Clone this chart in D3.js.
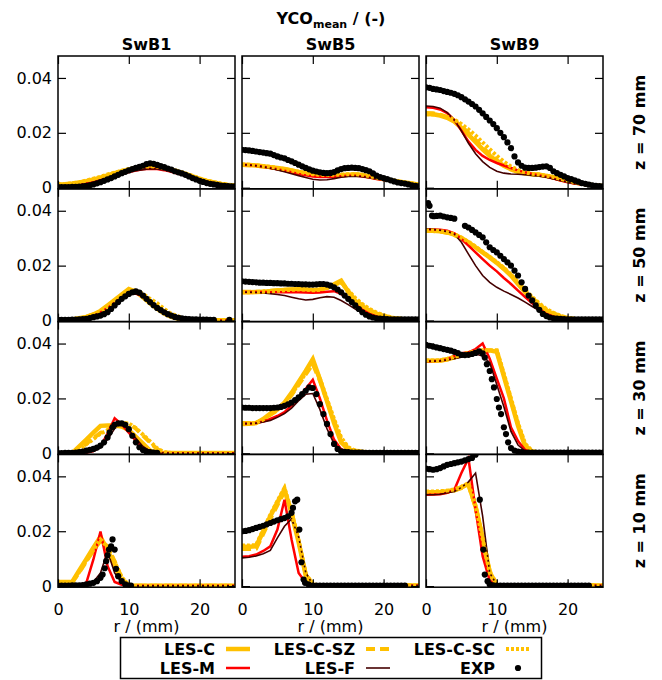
<!DOCTYPE html>
<html>
<head>
<meta charset="utf-8">
<script src="https://cdn.jsdelivr.net/npm/d3@7"></script>
<style>
  body { margin: 0; background: #fff; }
  svg { display: block; }
  text { font-family: "DejaVu Sans", sans-serif; fill: #000; }
</style>
</head>
<body>
<svg id="chart" width="662" height="680"></svg>
<script>
// Flames (columns) and measurement heights (rows)
const flames = ["SwB1", "SwB5", "SwB9"];
const heights = ["z = 70 mm", "z = 50 mm", "z = 30 mm", "z = 10 mm"];
const xTicks = [0, 10, 20];
const xTickLabels = ["0", "10", "20"];
const yTicks = [0, 0.02, 0.04];
const yTickLabels = ["0", "0.02", "0.04"];

// Radial grid of the simulation profiles (mm)
const rGrid = [0,1,2,3,4,5,6,7,8,9,10,11,12,13,14,15,16,17,18,19,20,21,22,23,24,25];

// Simulated mean CO mass fraction, indexed [height][flame], one value per rGrid point
const lesC = [
  [
    [.0012,.0013,.0015,.0019,.0024,.003,.0037,.0045,.0053,.006,.0066,.0071,.0075,.0077,.0076,.0072,.0066,.0058,.005,.0041,.0032,.0025,.0019,.0014,.001,.0008],
    [.0084,.0083,.0081,.0078,.0075,.0072,.0068,.0063,.0057,.0052,.0047,.0045,.0044,.0044,.0045,.0047,.0048,.0046,.0041,.0036,.0032,.0027,.0023,.0019,.0015,.0011],
    [.0269,.0268,.0263,.0255,.0241,.0218,.0193,.0167,.014,.0116,.0096,.008,.0067,.0058,.0052,.0049,.0047,.0043,.0038,.0031,.0025,.0019,.0015,.0011,.0008,.0006]
  ],
  [
    [.0001,.0002,.0004,.0008,.0013,.0022,.0035,.0055,.0075,.0095,.0115,.0105,.0085,.0063,.0043,.0025,.0013,.0006,.0002,.0001,.0001,.0001,.0001,.0001,.0001,.0001],
    [.0103,.0103,.0104,.0105,.0107,.0109,.0111,.0113,.0114,.0113,.0111,.0113,.012,.0132,.0145,.0105,.0072,.0052,.0036,.0025,.0016,.001,.0006,.0004,.0004,.0004],
    [.0327,.0327,.0325,.0321,.0313,.0301,.0285,.0267,.0248,.023,.021,.0188,.0164,.0133,.0103,.0079,.0055,.0036,.0024,.0015,.0008,.0005,.0003,.0003,.0003,.0003]
  ],
  [
    [0,0,.0001,.0025,.005,.0075,.01,.0101,.0101,.0098,.0085,.006,.0035,.001,.0002,.0001,.0001,.0001,.0001,.0001,.0001,.0001,.0001,.0001,.0001,.0001],
    [.0107,.0108,.011,.0125,.0145,.016,.0185,.022,.026,.03,.0343,.027,.019,.011,.004,.0015,.0008,.0005,.0003,.0003,.0003,.0003,.0003,.0003,.0003,.0003],
    [.0337,.0337,.0338,.0343,.035,.0358,.0365,.037,.0374,.0375,.037,.028,.019,.01,.0025,.0006,.0003,.0003,.0003,.0003,.0003,.0003,.0003,.0003,.0003,.0003]
  ],
  [
    [.0015,.0015,.0015,.0057,.0098,.014,.018,.013,.0075,.002,.0002,.0001,.0001,.0001,.0001,.0001,.0001,.0001,.0001,.0001,.0001,.0001,.0001,.0001,.0001,.0001],
    [.0143,.0143,.0145,.02,.0255,.0305,.0352,.0265,.016,.004,.0005,.0002,.0002,.0002,.0002,.0002,.0002,.0002,.0002,.0002,.0002,.0002,.0002,.0002,.0002,.0002],
    [.0342,.0342,.0343,.0346,.035,.036,.0372,.029,.0175,.005,.0004,.0002,.0002,.0002,.0002,.0002,.0002,.0002,.0002,.0002,.0002,.0002,.0002,.0002,.0002,.0002]
  ]
];

const lesCSZ = [
  [
    [.0011,.0012,.0014,.0018,.0023,.0029,.0036,.0044,.0052,.0059,.0065,.007,.0074,.0076,.0075,.0071,.0065,.0057,.0049,.004,.0031,.0024,.0018,.0013,.001,.0008],
    [.0083,.0082,.008,.0077,.0074,.0071,.0067,.0062,.0057,.0052,.0048,.0046,.0045,.0045,.0046,.0047,.0048,.0046,.0042,.0037,.0032,.0027,.0023,.0019,.0015,.0011],
    [.0272,.0271,.0266,.0258,.0245,.0224,.02,.0174,.0147,.0122,.01,.0083,.0069,.0059,.0053,.0049,.0047,.0043,.0038,.0031,.0025,.0019,.0015,.0011,.0008,.0006]
  ],
  [
    [.0001,.0002,.0004,.0008,.0013,.0021,.0033,.0052,.0072,.0092,.0111,.0108,.0092,.0072,.0052,.0032,.0017,.0008,.0003,.0001,.0001,.0001,.0001,.0001,.0001,.0001],
    [.0105,.0105,.0105,.0106,.0108,.011,.0112,.0113,.0114,.0112,.011,.0112,.0119,.013,.0141,.0107,.0076,.0055,.0038,.0026,.0017,.0011,.0007,.0005,.0004,.0004],
    [.0326,.0326,.0324,.032,.0312,.03,.0284,.0266,.0248,.023,.0211,.019,.0166,.0137,.0107,.0082,.0058,.0039,.0026,.0016,.0009,.0005,.0003,.0003,.0003,.0003]
  ],
  [
    [0,0,.0001,.0015,.0035,.0055,.0075,.0085,.0098,.011,.0108,.009,.0065,.004,.0015,.0003,.0001,.0001,.0001,.0001,.0001,.0001,.0001,.0001,.0001,.0001],
    [.011,.011,.0112,.0122,.014,.0157,.018,.0212,.025,.0288,.0325,.0265,.0192,.0118,.005,.0018,.0009,.0005,.0003,.0003,.0003,.0003,.0003,.0003,.0003,.0003],
    [.0336,.0336,.0337,.0342,.0349,.0357,.0364,.037,.0374,.0375,.0372,.0285,.0195,.0105,.003,.0007,.0003,.0003,.0003,.0003,.0003,.0003,.0003,.0003,.0003,.0003]
  ],
  [
    [.0013,.0013,.0013,.005,.009,.013,.0165,.0145,.009,.003,.0003,.0001,.0001,.0001,.0001,.0001,.0001,.0001,.0001,.0001,.0001,.0001,.0001,.0001,.0001,.0001],
    [.0135,.0135,.0137,.019,.0245,.0295,.0345,.027,.0165,.0045,.0006,.0002,.0002,.0002,.0002,.0002,.0002,.0002,.0002,.0002,.0002,.0002,.0002,.0002,.0002,.0002],
    [.0338,.0338,.034,.0343,.0348,.0357,.0368,.0288,.0178,.0055,.0005,.0002,.0002,.0002,.0002,.0002,.0002,.0002,.0002,.0002,.0002,.0002,.0002,.0002,.0002,.0002]
  ]
];

const lesCSC = [
  [
    [.0012,.0013,.0016,.002,.0026,.0033,.004,.0048,.0055,.0062,.0068,.0073,.0076,.0078,.0077,.0073,.0067,.006,.0052,.0043,.0034,.0026,.002,.0015,.0011,.0009],
    [.0085,.0084,.0082,.0079,.0076,.0072,.0068,.0063,.0058,.0053,.0049,.0047,.0046,.0047,.0048,.0049,.0049,.0047,.0042,.0037,.0032,.0027,.0022,.0018,.0014,.0011],
    [.0268,.0267,.0264,.0258,.0248,.0232,.0212,.019,.0165,.014,.0116,.0095,.0077,.0064,.0056,.0051,.0048,.0044,.0039,.0032,.0026,.002,.0015,.0011,.0008,.0006]
  ],
  [
    [.0001,.0002,.0004,.0008,.0013,.0021,.0033,.005,.007,.009,.0108,.0108,.0097,.0079,.0063,.0042,.0024,.0015,.0006,.0002,.0001,.0001,.0001,.0001,.0001,.0001],
    [.0103,.0103,.0104,.0105,.0106,.0108,.011,.0112,.0113,.0112,.011,.0112,.0118,.0129,.014,.011,.0082,.006,.0042,.0029,.0019,.0012,.0007,.0005,.0004,.0004],
    [.0328,.0328,.0326,.0322,.0314,.0302,.0287,.0269,.025,.0232,.0213,.0192,.0168,.014,.0111,.0086,.0062,.0042,.0028,.0017,.001,.0006,.0004,.0003,.0003,.0003]
  ],
  [
    [0,0,.0001,.0014,.0033,.0052,.0072,.0084,.0097,.0109,.0109,.0092,.0068,.0043,.0018,.0004,.0001,.0001,.0001,.0001,.0001,.0001,.0001,.0001,.0001,.0001],
    [.0108,.0109,.0111,.0123,.0142,.0158,.0182,.0215,.0253,.0292,.033,.0272,.0198,.0125,.0058,.0022,.001,.0006,.0004,.0003,.0003,.0003,.0003,.0003,.0003,.0003],
    [.0338,.0338,.0339,.0344,.0351,.0359,.0366,.0371,.0375,.0376,.0376,.029,.02,.011,.0035,.0008,.0003,.0003,.0003,.0003,.0003,.0003,.0003,.0003,.0003,.0003]
  ],
  [
    [.0014,.0014,.0014,.0052,.0092,.0132,.017,.0142,.0088,.0032,.0004,.0001,.0001,.0001,.0001,.0001,.0001,.0001,.0001,.0001,.0001,.0001,.0001,.0001,.0001,.0001],
    [.0148,.0148,.015,.0205,.026,.031,.0358,.027,.0163,.0042,.0005,.0002,.0002,.0002,.0002,.0002,.0002,.0002,.0002,.0002,.0002,.0002,.0002,.0002,.0002,.0002],
    [.0345,.0345,.0346,.0348,.0352,.0362,.0375,.0292,.0172,.0048,.0004,.0002,.0002,.0002,.0002,.0002,.0002,.0002,.0002,.0002,.0002,.0002,.0002,.0002,.0002,.0002]
  ]
];

const lesM = [
  [
    [.0004,.0005,.0007,.001,.0015,.002,.0027,.0034,.0042,.005,.0057,.0063,.0067,.0069,.0068,.0064,.0058,.0051,.0044,.0036,.0029,.0022,.0017,.0012,.0009,.0007],
    [.0084,.0083,.008,.0076,.0072,.0067,.0062,.0056,.005,.0045,.0041,.0039,.0039,.004,.0042,.0044,.0044,.0041,.0037,.0032,.0028,.0024,.002,.0016,.0012,.0009],
    [.0293,.0291,.0285,.0272,.0247,.0208,.0168,.0138,.0116,.0101,.009,.0081,.0072,.0063,.0056,.005,.0045,.004,.0033,.0026,.002,.0015,.0012,.0009,.0007,.0005]
  ],
  [
    [0,.0001,.0002,.0004,.0008,.0015,.003,.0045,.0065,.0085,.0098,.0098,.0088,.007,.005,.003,.0015,.0006,.0002,.0001,0,0,0,0,0,0],
    [.0104,.0104,.0104,.0104,.0103,.0103,.0103,.0103,.0103,.0102,.0101,.0102,.0105,.0107,.0097,.0079,.0058,.0039,.0024,.0015,.0009,.0006,.0005,.0004,.0004,.0004],
    [.0333,.0332,.0331,.0327,.0318,.0297,.0273,.0248,.0224,.02,.0179,.0155,.0133,.0109,.0085,.0063,.0042,.0024,.0015,.0008,.0005,.0004,.0003,.0003,.0003,.0003]
  ],
  [
    [0,0,0,.0001,.0002,.0008,.0025,.0072,.0128,.0105,.0075,.0045,.002,.0007,.0002,.0001,0,0,0,0,0,0,0,0,0,0],
    [.0108,.0109,.011,.0116,.0125,.0136,.015,.0175,.0205,.0235,.0268,.02,.012,.005,.0015,.0006,.0004,.0003,.0003,.0003,.0003,.0003,.0003,.0003,.0003,.0003],
    [.0335,.0336,.0337,.0342,.0355,.0365,.0368,.038,.04,.0345,.0272,.02,.0095,.0045,.0012,.0005,.0003,.0003,.0003,.0003,.0003,.0003,.0003,.0003,.0003,.0003]
  ],
  [
    [.0001,.0001,.0001,.0002,.0012,.0097,.0199,.0073,.0015,.0005,.0002,.0001,.0001,.0001,.0001,.0001,.0001,.0001,.0001,.0001,.0001,.0001,.0001,.0001,.0001,.0001],
    [.0107,.0109,.0115,.0128,.0145,.0206,.0315,.017,.0048,.0012,.0003,.0002,.0002,.0002,.0002,.0002,.0002,.0002,.0002,.0002,.0002,.0002,.0002,.0002,.0002,.0002],
    [.0333,.0334,.0335,.034,.0351,.0412,.0465,.0279,.0109,.002,.0003,.0002,.0002,.0002,.0002,.0002,.0002,.0002,.0002,.0002,.0002,.0002,.0002,.0002,.0002,.0002]
  ]
];

const lesF = [
  [
    [.0004,.0005,.0007,.001,.0014,.0019,.0026,.0033,.0041,.0049,.0056,.0062,.0066,.0069,.0068,.0065,.0059,.0052,.0045,.0037,.003,.0023,.0017,.0012,.0009,.0007],
    [.0084,.0083,.008,.0076,.0071,.0065,.0058,.0051,.0044,.0037,.0031,.0028,.0029,.0033,.0038,.0041,.0042,.004,.0036,.0032,.0028,.0024,.002,.0016,.0012,.0009],
    [.0298,.0296,.029,.0274,.0247,.0207,.0162,.0124,.0095,.0074,.006,.0053,.005,.0049,.0047,.0045,.0042,.0038,.0032,.0026,.002,.0015,.0011,.0008,.0006,.0005]
  ],
  [
    [0,.0001,.0002,.0004,.0007,.0013,.0026,.0041,.006,.008,.0094,.0097,.0088,.0071,.0051,.0031,.0016,.0007,.0002,.0001,0,0,0,0,0,0],
    [.0103,.0103,.0102,.01,.0098,.0095,.0091,.0085,.0079,.0075,.0077,.0083,.0087,.0085,.0073,.0058,.0042,.0027,.0016,.001,.0006,.0005,.0004,.0004,.0004,.0004],
    [.0333,.0332,.0329,.0324,.0315,.0285,.0242,.02,.0164,.0139,.0121,.0107,.0095,.0082,.0067,.0051,.0036,.0022,.0012,.0007,.0005,.0004,.0003,.0003,.0003,.0003]
  ],
  [
    [0,0,0,.0001,.0002,.0007,.002,.005,.009,.011,.0085,.0055,.0025,.0008,.0002,.0001,0,0,0,0,0,0,0,0,0,0],
    [.0108,.0108,.011,.0114,.012,.0131,.0145,.0165,.0192,.0215,.0218,.016,.009,.0035,.001,.0005,.0003,.0003,.0003,.0003,.0003,.0003,.0003,.0003,.0003,.0003],
    [.0335,.0336,.0337,.034,.0345,.035,.0355,.0362,.0355,.033,.025,.017,.008,.003,.0008,.0004,.0003,.0003,.0003,.0003,.0003,.0003,.0003,.0003,.0003,.0003]
  ],
  [
    [0,0,0,0,.0001,.0015,.0048,.0127,.0048,.0012,.0003,.0001,.0001,.0001,.0001,.0001,.0001,.0001,.0001,.0001,.0001,.0001,.0001,.0001,.0001,.0001],
    [.0103,.0105,.011,.0118,.013,.0176,.0218,.0245,.018,.005,.0005,.0002,.0002,.0002,.0002,.0002,.0002,.0002,.0002,.0002,.0002,.0002,.0002,.0002,.0002,.0002],
    [.0333,.0333,.0335,.034,.0345,.036,.038,.0412,.0255,.0048,.0005,.0002,.0002,.0002,.0002,.0002,.0002,.0002,.0002,.0002,.0002,.0002,.0002,.0002,.0002,.0002]
  ]
];

// Measured profiles, [r (mm), YCO] pairs, indexed [height][flame]
const expData = [
  [
    [[0,.0002],[.5,.0002],[1,.0002],[1.5,.0002],[2,.0003],[2.5,.0003],[3,.0004],[3.5,.0005],[4,.0007],[4.5,.0009],[5,.0012],[5.5,.0016],[6,.002],[6.5,.0025],[7,.003],[7.5,.0035],[8,.0041],[8.5,.0047],[9,.0053],[9.5,.0058],[10,.0063],[10.5,.0068],[11,.0072],[11.5,.0076],[12,.008],[12.5,.0086],[13,.0089],[13.5,.0087],[14,.0083],[14.5,.0079],[15,.0075],[15.5,.007],[16,.0066],[16.5,.006],[17,.0056],[17.5,.0052],[18,.0047],[18.5,.0041],[19,.0035],[19.5,.003],[20,.0025],[20.5,.0021],[21,.0017],[21.5,.0014],[22,.0012],[22.5,.001],[23,.0008],[23.5,.0007],[24,.0006],[24.5,.0005],[25,.0005]],
    [[0,.0138],[.5,.0137],[1,.0136],[1.5,.0134],[2,.0132],[2.5,.013],[3,.0128],[3.5,.0126],[4,.0124],[4.5,.0119],[5,.0114],[5.5,.011],[6,.0107],[6.5,.0101],[7,.0096],[7.5,.009],[8,.0084],[8.5,.0078],[9,.0072],[9.5,.0067],[10,.0062],[10.5,.0059],[11,.0056],[11.5,.0054],[12,.0053],[12.5,.0054],[13,.0057],[13.5,.0063],[14,.0068],[14.5,.0071],[15,.0072],[15.5,.0073],[16,.0072],[16.5,.0071],[17,.0068],[17.5,.0064],[18,.006],[18.5,.0052],[19,.0044],[19.5,.0039],[20,.0035],[20.5,.0031],[21,.0027],[21.5,.0023],[22,.0019],[22.5,.0017],[23,.0015],[23.5,.0012],[24,.0009],[24.5,.0007],[25,.0005]],
    [[0,.0366],[.5,.0364],[1,.036],[1.5,.0358],[2,.0356],[2.5,.0352],[3,.0349],[3.5,.0346],[4,.0342],[4.5,.0337],[5,.033],[5.5,.0322],[6,.0314],[6.5,.0305],[7,.0296],[7.5,.0284],[8,.0271],[8.5,.0258],[9,.0245],[9.5,.0232],[10,.0217],[10.5,.02],[11,.0184],[11.5,.0165],[12,.0144],[12.5,.0114],[13,.0092],[13.5,.008],[14,.0073],[14.5,.0072],[15,.0072],[15.5,.0073],[16,.0075],[16.5,.0077],[17,.0078],[17.5,.0072],[18,.006],[18.5,.0053],[19,.0047],[19.5,.0041],[20,.0035],[20.5,.0031],[21,.0027],[21.5,.0022],[22,.0017],[22.5,.0014],[23,.0011],[23.5,.0009],[24,.0007],[24.5,.0006],[25,.0005]]
  ],
  [
    [[0,.0002],[.5,.0002],[1,.0002],[1.5,.0002],[2,.0003],[2.5,.0003],[3,.0004],[3.5,.0005],[4,.0006],[4.5,.0009],[5,.0012],[5.5,.0015],[6,.0018],[6.5,.0023],[7,.003],[7.5,.0042],[8,.0055],[8.5,.0067],[9,.0079],[9.5,.0088],[10,.0097],[10.5,.0103],[11,.0106],[11.5,.0102],[12,.0091],[12.5,.0079],[13,.0067],[13.5,.0056],[14,.0046],[14.5,.0038],[15,.003],[15.5,.0023],[16,.0018],[16.5,.0013],[17,.001],[17.5,.0008],[18,.0006],[18.5,.0005],[19,.0004],[19.5,.0004],[20,.0003],[20.5,.0003],[21,.0003],[21.5,.0002],[22,.0002],[24.2,.0002]],
    [[0,.0143],[.5,.0142],[1,.0141],[1.5,.014],[2,.0139],[2.5,.0138],[3,.0138],[3.5,.0137],[4,.0137],[4.5,.0136],[5,.0136],[5.5,.0135],[6,.0135],[6.5,.0134],[7,.0134],[7.5,.0133],[8,.0133],[8.5,.0132],[9,.0132],[9.5,.0131],[10,.0131],[10.5,.0132],[11,.0133],[11.5,.0133],[12,.0131],[12.5,.0127],[13,.0121],[13.5,.0113],[14,.0103],[14.5,.0091],[15,.0079],[15.5,.0067],[16,.0055],[16.5,.0042],[17,.003],[17.5,.0021],[18,.0015],[18.5,.0011],[19,.0008],[19.5,.0007],[20,.0006],[20.5,.0005],[21,.0004],[21.5,.0004],[22,.0004],[22.5,.0004],[23,.0004],[23.5,.0004],[24,.0004],[24.5,.0004],[25,.0004]],
    [[.3,.0428],[.5,.0418],[.85,.0382],[1.1,.038],[1.5,.0381],[2,.0382],[2.5,.0379],[3,.0376],[3.5,.0374],[4,.0371],[5.5,.0345],[6,.0339],[6.5,.033],[7,.0321],[7.5,.0312],[8,.0303],[8.5,.0285],[9,.0267],[9.5,.0257],[10,.0248],[10.5,.0236],[11,.0224],[11.5,.0212],[12,.02],[12.5,.0182],[13,.0164],[13.5,.0139],[14,.0115],[14.5,.0091],[15,.0073],[15.5,.0055],[16,.0039],[16.5,.0024],[17,.0016],[17.5,.0011],[18,.0008],[18.5,.0007],[19,.0006],[19.5,.0005],[20,.0004],[20.5,.0004],[21,.0004],[21.5,.0004],[22,.0004],[22.5,.0004],[23,.0004],[23.5,.0004],[24,.0004],[24.5,.0004],[25,.0004]]
  ],
  [
    [[0,.0001],[.5,.0001],[1,.0002],[1.5,.0002],[2,.0002],[2.5,.0003],[3,.0004],[3.5,.0006],[4,.001],[4.5,.0013],[5,.0016],[5.5,.0021],[6,.0028],[6.5,.004],[7,.0058],[7.3,.0076],[7.7,.0095],[8,.0104],[8.5,.0109],[9,.0109],[9.5,.0104],[10,.0088],[10.5,.0064],[11,.004],[11.5,.0022],[12,.0012],[12.5,.0006],[13,.0004],[13.5,.0003],[14,.0002]],
    [[0,.0167],[.5,.0166],[1,.0166],[1.5,.0165],[2,.0165],[2.5,.0165],[3,.0165],[3.5,.0165],[4,.0165],[4.5,.0166],[5,.0167],[5.5,.0169],[6,.0173],[6.5,.0178],[7,.0185],[7.5,.0194],[8,.0204],[8.5,.0216],[9,.0228],[9.5,.024],[10,.0238],[10.5,.0216],[11,.0179],[11.5,.0143],[12,.0107],[12.5,.007],[13,.0034],[13.5,.0016],[14,.0007],[14.5,.0005],[15,.0004],[15.5,.0003],[16,.0003],[16.5,.0003],[17,.0003],[17.5,.0002],[18,.0002],[18.5,.0002],[19,.0002],[19.5,.0002],[20,.0002],[20.5,.0002],[21,.0002],[21.5,.0002],[22,.0002],[22.5,.0002],[23,.0002],[23.5,.0002],[24,.0002],[24.5,.0002],[25,.0002]],
    [[0,.0395],[.5,.0392],[1,.0389],[1.5,.0386],[2,.0383],[2.5,.038],[3,.0377],[3.5,.0374],[4,.037],[4.5,.0365],[5,.0359],[5.5,.0358],[6,.0359],[6.5,.0362],[7,.0366],[7.5,.0372],[8,.0364],[8.3,.0349],[8.6,.0325],[9,.03],[9.3,.027],[9.6,.024],[10,.0198],[10.3,.0167],[10.6,.0143],[11,.0095],[11.3,.007],[11.6,.004],[12,.0019],[12.5,.001],[13,.0006],[13.5,.0004],[14,.0003],[14.5,.0003],[15,.0003],[15.5,.0003],[16,.0003],[16.5,.0003],[17,.0003],[17.5,.0003],[18,.0003],[18.5,.0003],[19,.0003],[19.5,.0003],[20,.0003],[20.5,.0003],[21,.0003],[21.5,.0003],[22,.0003],[22.5,.0003],[23,.0003],[23.5,.0003],[24,.0003],[24.5,.0003],[25,.0003]]
  ],
  [
    [[0,.0002],[.5,.0002],[1,.0002],[1.5,.0002],[2,.0003],[2.5,.0003],[3,.0003],[3.5,.0004],[4,.0006],[4.5,.0009],[5,.0012],[5.5,.0018],[6,.003],[6.3,.0042],[6.6,.0065],[6.8,.0091],[7,.0112],[7.2,.0133],[7.5,.0145],[7.7,.017],[8,.0133],[8.2,.0063],[8.5,.0036],[9,.0018],[9.5,.0006],[10,.0002],[10.3,.0002]],
    [[0,.02],[.5,.0201],[1,.0204],[1.5,.0208],[2,.0212],[2.5,.0216],[3,.022],[3.5,.0225],[4,.023],[4.5,.0235],[5,.024],[5.5,.0244],[6,.0248],[6.5,.0254],[7,.0267],[7.2,.0285],[7.5,.0309],[7.8,.0315],[8.1,.0206],[8.4,.0087],[8.7,.0024],[8.9,.0012],[9.4,.0006],[10,.0002],[10.5,.0002],[11,.0002],[11.5,.0002],[12,.0002],[12.5,.0002],[13,.0002],[13.5,.0002],[14,.0002],[14.5,.0002],[15,.0002],[15.5,.0002],[16,.0002],[16.5,.0002],[17,.0002],[17.5,.0002],[18,.0002],[18.5,.0002],[19,.0002],[19.5,.0002],[20,.0002],[20.5,.0002],[21,.0002],[21.5,.0002],[22,.0002],[22.5,.0002],[23,.0002]],
    [[0,.0428],[.5,.0426],[1,.0424],[1.5,.0426],[2,.043],[2.5,.0436],[3,.0442],[3.5,.0445],[4,.0448],[4.5,.0451],[5,.0454],[5.5,.0458],[6,.0463],[6.5,.0467],[7,.0479],[7.6,.0315],[8.1,.0133],[8.3,.0042],[8.7,.0018],[9,.0006],[9.5,.0003],[10,.0002],[10.5,.0002],[11,.0002],[11.5,.0002],[12,.0002],[12.5,.0002],[13,.0002],[13.5,.0002],[14,.0002],[14.5,.0002],[15,.0002],[15.5,.0002],[16,.0002],[16.5,.0002],[17,.0002],[17.5,.0002],[18,.0002],[18.5,.0002],[19,.0002],[19.5,.0002],[20,.0002],[20.5,.0002],[21,.0002],[21.5,.0002],[22,.0002],[22.5,.0002],[23,.0002]]
  ]
];

// Line styles of the simulated series, in drawing order
const ORANGE = "#ffc000";
const modelSeries = [
  { name: "LES-C",    data: lesC,   color: ORANGE,    width: 4.5, dash: null },
  { name: "LES-C-SZ", data: lesCSZ, color: ORANGE,    width: 4,   dash: "9,5" },
  { name: "LES-M",    data: lesM,   color: "#ff0000", width: 2.5, dash: null },
  { name: "LES-F",    data: lesF,   color: "#440000", width: 1.6, dash: null },
  { name: "LES-C-SC", data: lesCSC, color: ORANGE,    width: 4,   dash: "3,2" }
];
const styleOf = Object.fromEntries(modelSeries.map(s => [s.name, s]));

// Layout
const colLeft = [58, 242, 426];
const panelW = 177;
const rowTop = [56, 188.8, 321.6, 454.4];
const panelH = 132.8;

const svg = d3.select("#chart");

heights.forEach((hLabel, ri) => {
  flames.forEach((flame, ci) => {
    const x0 = colLeft[ci], y0 = rowTop[ri];
    const x = d3.scaleLinear().domain([0, 25]).range([x0, x0 + panelW]);
    const y = d3.scaleLinear().domain([-0.0004, 0.048]).range([y0 + panelH, y0]);

    const clipId = `clip-${ri}-${ci}`;
    svg.append("clipPath").attr("id", clipId)
      .append("rect").attr("x", x0).attr("y", y0).attr("width", panelW).attr("height", panelH);

    const g = svg.append("g").attr("clip-path", `url(#${clipId})`);

    modelSeries.forEach(s => {
      const vals = s.data[ri][ci];
      const line = d3.line().x((d, i) => x(rGrid[i])).y(d => y(d));
      g.append("path")
        .attr("d", line(vals))
        .attr("fill", "none")
        .attr("stroke", s.color)
        .attr("stroke-width", s.width)
        .attr("stroke-linejoin", "miter")
        .attr("stroke-dasharray", s.dash);
    });

    g.selectAll("circle.exp").data(expData[ri][ci]).join("circle")
      .attr("class", "exp")
      .attr("cx", d => x(d[0]))
      .attr("cy", d => y(d[1]))
      .attr("r", 3.1)
      .attr("fill", "#000");

    // Axes with inward ticks on all four sides
    const styleAxis = sel => {
      sel.select(".domain").remove();
      sel.selectAll(".tick line").attr("stroke", "#000").attr("stroke-width", 1.2);
      sel.selectAll("text").attr("font-size", 16).attr("font-family", '"DejaVu Sans", sans-serif').attr("fill", "#000");
    };

    svg.append("g").attr("transform", `translate(${x0},0)`)
      .call(d3.axisLeft(y).tickValues(yTicks).tickSize(-8).tickPadding(6)
        .tickFormat((d, i) => ci === 0 ? yTickLabels[i] : ""))
      .call(styleAxis);
    svg.append("g").attr("transform", `translate(${x0 + panelW},0)`)
      .call(d3.axisRight(y).tickValues(yTicks).tickSize(-8).tickFormat(""))
      .call(styleAxis);
    svg.append("g").attr("transform", `translate(0,${y0})`)
      .call(d3.axisTop(x).tickValues(xTicks).tickSize(-8).tickFormat(""))
      .call(styleAxis);
    svg.append("g").attr("transform", `translate(0,${y0 + panelH})`)
      .call(d3.axisBottom(x).tickValues(xTicks).tickSize(-8).tickPadding(16)
        .tickFormat((d, i) => ri === heights.length - 1 ? xTickLabels[i] : ""))
      .call(styleAxis);

    svg.append("rect")
      .attr("x", x0).attr("y", y0).attr("width", panelW).attr("height", panelH)
      .attr("fill", "none").attr("stroke", "#000").attr("stroke-width", 1.5);

    if (ri === heights.length - 1) {
      svg.append("text")
        .attr("x", x0 + panelW / 2).attr("y", 632)
        .attr("text-anchor", "middle").attr("font-size", 16)
        .text("r / (mm)");
    }
  });

  // Height labels on the right
  svg.append("text")
    .attr("transform", `translate(645,${rowTop[ri] + panelH / 2}) rotate(-90)`)
    .attr("text-anchor", "middle").attr("font-size", 16).attr("font-weight", "bold")
    .text(hLabel);
});

// Flame names above the columns
flames.forEach((f, ci) => {
  svg.append("text")
    .attr("x", colLeft[ci] + panelW / 2).attr("y", 50)
    .attr("text-anchor", "middle").attr("font-size", 16).attr("font-weight", "bold")
    .text(f);
});

// Overall title with subscript
const title = svg.append("text")
  .attr("x", 331).attr("y", 24)
  .attr("text-anchor", "middle").attr("font-size", 16).attr("font-weight", "bold");
title.append("tspan").text("YCO");
title.append("tspan").attr("font-size", 11).attr("dy", 4).text("mean");
title.append("tspan").attr("dy", -4).text(" / (-)");

// Legend
const legend = svg.append("g");
legend.append("rect")
  .attr("x", 120.5).attr("y", 637.5).attr("width", 421).attr("height", 41)
  .attr("fill", "#fff").attr("stroke", "#000").attr("stroke-width", 1.5);

const legendRows = [["LES-C", "LES-C-SZ", "LES-C-SC"], ["LES-M", "LES-F", "EXP"]];
const legendTextX = [215, 355, 495];
const legendBase = [655, 674];
legendRows.forEach((row, li) => {
  row.forEach((name, k) => {
    const tx = legendTextX[k], ty = legendBase[li];
    legend.append("text")
      .attr("x", tx).attr("y", ty)
      .attr("text-anchor", "end").attr("font-size", 16).attr("font-weight", "bold")
      .text(name);
    const cy = ty - 6;
    if (name === "EXP") {
      legend.append("circle").attr("cx", tx + 23).attr("cy", cy).attr("r", 3.1).attr("fill", "#000");
    } else {
      const s = styleOf[name];
      legend.append("line")
        .attr("x1", tx + 11).attr("x2", tx + 35).attr("y1", cy).attr("y2", cy)
        .attr("stroke", s.color).attr("stroke-width", s.width)
        .attr("stroke-dasharray", s.dash);
    }
  });
});
</script>
</body>
</html>
